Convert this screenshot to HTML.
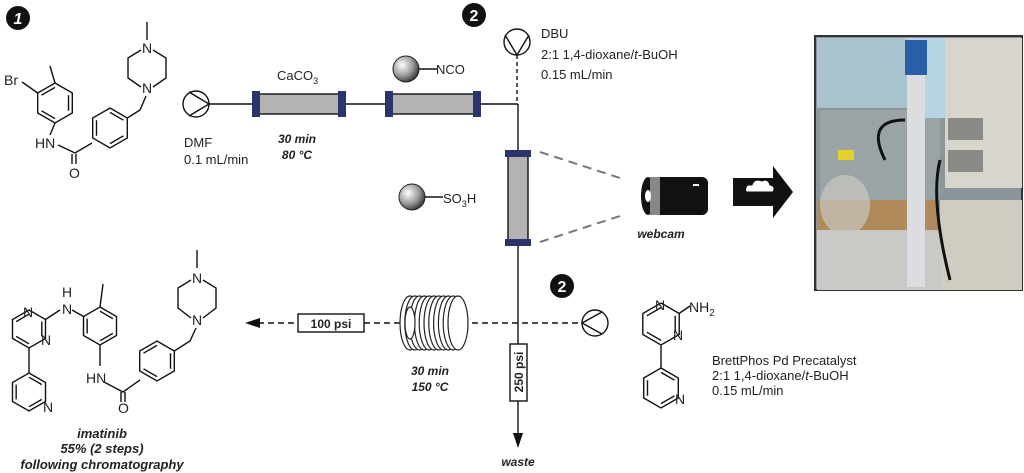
<!DOCTYPE html>
<html><head><meta charset="utf-8"><style>
html,body{margin:0;padding:0;background:#fff}
svg{display:block}
text{font-family:"Liberation Sans",sans-serif;fill:#222}
.bi{font-weight:bold;font-style:italic;font-size:12px}
.bi2{font-weight:bold;font-style:italic;font-size:13px}
.t{font-size:13px}
.ch{font-size:14px}
</style></head><body>
<svg id="s" width="1024" height="473" viewBox="0 0 1024 473" xmlns="http://www.w3.org/2000/svg">
<defs>
<radialGradient id="bead" cx="0.35" cy="0.35" r="0.7"><stop offset="0" stop-color="#fff"/><stop offset="0.6" stop-color="#999"/><stop offset="1" stop-color="#333"/></radialGradient>
</defs>
<g stroke="#111" stroke-width="1.4" fill="none" id="mol"></g>

<circle cx="18" cy="18" r="12" fill="#111"/><text x="18" y="24" text-anchor="middle" style="fill:#fff;font-weight:bold;font-style:italic;font-size:16px">1</text>
<circle cx="474" cy="15" r="12" fill="#111"/><text x="474" y="21" text-anchor="middle" style="fill:#fff;font-weight:bold;font-size:16px">2</text>
<circle cx="562" cy="286" r="12" fill="#111"/><text x="562" y="292" text-anchor="middle" style="fill:#fff;font-weight:bold;font-size:16px">2</text>

<g stroke="#111" stroke-width="1.4" fill="none">
<circle cx="196" cy="104" r="13"/><path d="M189 92 L209 104 L189 116"/>
<line x1="209" y1="104" x2="518" y2="104"/>
<line x1="518" y1="104" x2="518" y2="435"/>
<line x1="517" y1="55" x2="517" y2="104" stroke-dasharray="4,3"/>
<circle cx="517" cy="42" r="13"/><path d="M505 35 L517 55 L529 35"/>
</g>
<g fill="#b3b3b3" stroke="#111" stroke-width="1.4">
<rect x="258" y="94" width="82" height="20"/>
<rect x="391" y="94" width="84" height="20"/>
<rect x="508" y="155" width="20" height="86"/>
</g>
<g fill="#2b356b">
<rect x="252" y="91" width="8" height="26"/><rect x="338" y="91" width="8" height="26"/>
<rect x="385" y="91" width="8" height="26"/><rect x="473" y="91" width="8" height="26"/>
<rect x="505" y="150" width="26" height="7"/><rect x="505" y="239" width="26" height="7"/>
</g>
<text x="277" y="80" class="t">CaCO<tspan dy="4" font-size="9">3</tspan></text>
<circle cx="406" cy="69" r="13" fill="url(#bead)" stroke="#222"/><line x1="419" y1="69" x2="437" y2="69" stroke="#111" stroke-width="1.4"/>
<text x="436" y="74" class="t">NCO</text>
<circle cx="412" cy="197" r="13" fill="url(#bead)" stroke="#222"/><line x1="425" y1="197" x2="443" y2="197" stroke="#111" stroke-width="1.4"/>
<text x="443" y="203" class="t">SO<tspan dy="4" font-size="9">3</tspan><tspan dy="-4">H</tspan></text>
<text x="184" y="147" class="t">DMF</text><text x="184" y="164" class="t">0.1 mL/min</text>
<text x="297" y="143" class="bi" text-anchor="middle">30 min</text><text x="297" y="159" class="bi" text-anchor="middle">80 °C</text>
<text x="541" y="38" class="t">DBU</text>
<text x="541" y="59" class="t">2:1 1,4-dioxane/<tspan font-style="italic">t</tspan>-BuOH</text>
<text x="541" y="79" class="t">0.15 mL/min</text>

<g stroke="#777" stroke-width="2" stroke-dasharray="9,6"><line x1="540" y1="152" x2="620" y2="178"/><line x1="540" y1="242" x2="620" y2="216"/></g>
<rect x="648" y="177" width="60" height="38" rx="6" fill="#111"/>
<ellipse cx="648" cy="196" rx="7" ry="19" fill="#111"/>
<rect x="650" y="177" width="10" height="38" fill="#888"/>
<ellipse cx="648" cy="196" rx="3" ry="6" fill="#fff"/>
<rect x="693" y="184" width="6" height="2" fill="#fff"/>
<text x="661" y="238" class="bi" text-anchor="middle">webcam</text>
<path d="M733 178 L773 178 L773 166 L793 192 L773 218 L773 206 L733 206 Z" fill="#111"/>
<path d="M746 192 q-2 -8 6 -7 q2 -7 10 -4 q6 -3 8 4 q6 1 3 7 Z" fill="#fff" stroke="#111"/>

<g>
<rect x="815" y="36" width="207" height="254" fill="#8b959c" stroke="#333" stroke-width="2"/>
<rect x="817" y="38" width="90" height="70" fill="#a9c3cf"/>
<rect x="820" y="110" width="120" height="90" fill="#9aa3a6"/>
<rect x="907" y="38" width="40" height="80" fill="#b7d4e3"/>
<rect x="945" y="38" width="77" height="150" fill="#d8d6cc"/>
<rect x="940" y="200" width="82" height="90" fill="#cfcdc2"/>
<rect x="817" y="200" width="120" height="30" fill="#b08a5a"/>
<ellipse cx="845" cy="205" rx="25" ry="30" fill="#c8c8c0" opacity="0.7"/>
<rect x="838" y="150" width="16" height="10" fill="#e3d329"/>
<rect x="817" y="230" width="125" height="60" fill="#c9c9c5"/>
<rect x="905" y="40" width="22" height="35" fill="#2a5ea8"/>
<rect x="907" y="75" width="18" height="212" fill="#dcdde0"/>
<rect x="948" y="118" width="35" height="22" fill="#8a8a86"/>
<rect x="948" y="150" width="35" height="22" fill="#8a8a86"/>
<path d="M905 120 q-40 0 -20 40 M940 160 q-10 40 10 120" stroke="#111" stroke-width="3" fill="none"/>
</g>

<g stroke="#111" stroke-width="1.6" fill="none" stroke-dasharray="6,4">
<line x1="258" y1="323" x2="298" y2="323"/>
<line x1="364" y1="323" x2="404" y2="323"/>
<line x1="462" y1="323" x2="582" y2="323"/>
</g>
<path d="M245 323 L260 318 L260 328 Z" fill="#111"/>
<circle cx="595" cy="323" r="13" fill="none" stroke="#111" stroke-width="1.4"/><path d="M602 312 L582 323 L602 334" fill="none" stroke="#111" stroke-width="1.4"/>
<rect x="298" y="314" width="66" height="18" fill="#fff" stroke="#111" stroke-width="1.4"/>
<text x="331" y="328" text-anchor="middle" style="font-weight:bold;font-size:12px">100 psi</text>
<g id="coil" fill="#fff" stroke="#222" stroke-width="1.2"></g>
<text x="430" y="375" class="bi" text-anchor="middle">30 min</text><text x="430" y="391" class="bi" text-anchor="middle">150 °C</text>
<rect x="510" y="344" width="17" height="57" fill="#fff" stroke="#111" stroke-width="1.4"/>
<text transform="translate(523,372) rotate(-90)" text-anchor="middle" style="font-weight:bold;font-size:12px">250 psi</text>
<path d="M513 433 L523 433 L518 448 Z" fill="#111"/>
<text x="518" y="466" class="bi" text-anchor="middle">waste</text>

<text x="712" y="365" class="t">BrettPhos Pd  Precatalyst</text>
<text x="712" y="380" class="t">2:1 1,4-dioxane/<tspan font-style="italic">t</tspan>-BuOH</text>
<text x="712" y="395" class="t">0.15 mL/min</text>

<text x="102" y="438" class="bi2" text-anchor="middle">imatinib</text>
<text x="102" y="453" class="bi2" text-anchor="middle">55% (2 steps)</text>
<text x="102" y="469" class="bi2" text-anchor="middle">following chromatography</text>

<g>
<text x="4" y="85" class="ch">Br</text>
<text x="35" y="148" class="ch">HN</text>
<text x="69" y="178" class="ch">O</text>
<text x="142" y="53" class="ch">N</text>
<text x="142" y="93" class="ch">N</text>
<text x="23" y="317" class="ch">N</text>
<text x="41" y="345" class="ch">N</text>
<text x="62" y="314" class="ch">N</text>
<text x="62" y="297" class="ch">H</text>
<text x="43" y="412" class="ch">N</text>
<text x="86" y="383" class="ch">HN</text>
<text x="118" y="413" class="ch">O</text>
<text x="192" y="283" class="ch">N</text>
<text x="192" y="325" class="ch">N</text>
<text x="655" y="310" class="ch">N</text>
<text x="673" y="340" class="ch">N</text>
<text x="689" y="312" class="ch">NH<tspan dy="4" font-size="10">2</tspan></text>
<text x="675" y="404" class="ch">N</text>
</g>
</svg>
<script>
var NS="http://www.w3.org/2000/svg",m=document.getElementById('mol');
function P(d){var p=document.createElementNS(NS,'path');p.setAttribute('d',d);m.appendChild(p);}
function hex(cx,cy,r,inner){var pts=[];for(var i=0;i<6;i++){var a=Math.PI/180*(60*i-90);pts.push([cx+r*Math.cos(a),cy+r*Math.sin(a)]);}
P('M'+pts.map(function(p){return p[0].toFixed(1)+' '+p[1].toFixed(1)}).join(' L')+' Z');
(inner||[]).forEach(function(i){var a=pts[i],b=pts[(i+1)%6];var k=0.78;var ax=cx+(a[0]-cx)*k,ay=cy+(a[1]-cy)*k,bx=cx+(b[0]-cx)*k,by=cy+(b[1]-cy)*k;P('M'+ax+' '+ay+' L'+bx+' '+by);});return pts;}
hex(55,103,20,[1,3,5]);
P('M55 83 L50 66');P('M37.7 93 L22 82');
P('M55 123 L50 135');P('M58 145 L75 153 L92 143');P('M72 154 L72 164 M76 154 L76 164');
hex(110,128,20,[0,2,4]);
P('M127.3 118 L140 110 L146 96');
P('M153 87 L166 78 L166 58 L153 50 M141 50 L128 58 L128 78 L141 87');P('M147 40 L147 22');
hex(29,329,19,[1,3,5]);
P('M45.5 319.5 L60 310');P('M72 310 L83.5 316.5');
hex(100,326,19,[0,2,4]);
P('M100 307 L103 284');
P('M100 345 L100 366');P('M104 382 L123 392 L140 380');P('M121 392 L121 402 M125 392 L125 402');
hex(157,361,20,[1,3,5]);
P('M174.3 351 L190 341 L196 328');
P('M203 318 L216 308 L216 288 L203 280 M191 280 L178 288 L178 308 L191 318');P('M197 268 L197 250');
P('M29 348 L29 373');
hex(29,392,19,[0,2,4]);
hex(661,324,21,[1,3,5]);P('M679 313.5 L690 306');P('M661 345 L661 368');hex(661,388,20,[0,2,4]);
var c=document.getElementById('coil');
for(var i=0;i<11;i++){var e=document.createElementNS(NS,'ellipse');e.setAttribute('cx',410+i*4.8);e.setAttribute('cy',323);e.setAttribute('rx',10);e.setAttribute('ry',27);c.appendChild(e);}
var e2=document.createElementNS(NS,'ellipse');e2.setAttribute('cx',410);e2.setAttribute('cy',323);e2.setAttribute('rx',5);e2.setAttribute('ry',16);c.appendChild(e2);
</script>
</body></html>
